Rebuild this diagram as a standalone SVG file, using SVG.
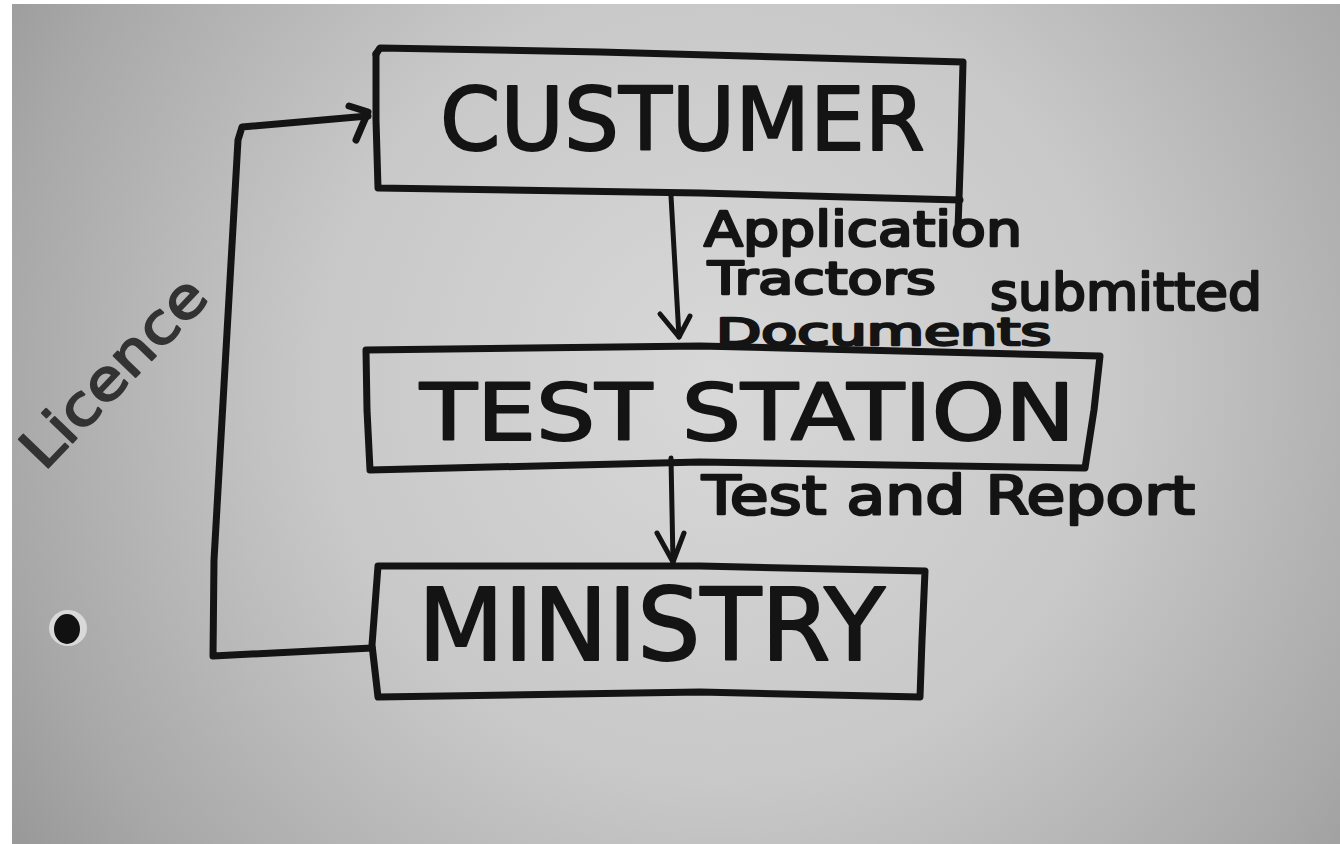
<svg xmlns="http://www.w3.org/2000/svg" width="1340" height="844" viewBox="0 0 1340 844">
  <defs>
    <radialGradient id="bg" cx="720" cy="380" r="900" gradientUnits="userSpaceOnUse">
      <stop offset="0" stop-color="#d8d8d8"/>
      <stop offset="0.45" stop-color="#c8c8c8"/>
      <stop offset="0.8" stop-color="#a8a8a8"/>
      <stop offset="1" stop-color="#929292"/>
    </radialGradient>
    <style>
      .ink{fill:none;stroke:#141414;stroke-width:7;stroke-linejoin:round;stroke-linecap:round}
      .thin{fill:none;stroke:#141414;stroke-width:5;stroke-linejoin:round;stroke-linecap:round}
      .big{font-family:"DejaVu Sans","Liberation Sans",sans-serif;fill:#141414;stroke:#141414;stroke-width:2;stroke-linejoin:round}
      .lab{font-family:"DejaVu Sans","Liberation Sans",sans-serif;fill:#141414;stroke:#141414;stroke-width:2.5;stroke-linejoin:round}
    </style>
  </defs>
  <rect x="0" y="0" width="1340" height="844" fill="#ffffff"/>
  <rect x="12" y="4" width="1328" height="840" fill="url(#bg)"/>

  <!-- hole in board -->
  <ellipse cx="68" cy="628" rx="19" ry="18" fill="#d9d9d9"/>
  <ellipse cx="67" cy="629" rx="13" ry="15" fill="#111111"/>

  <g id="customer">
    <path class="ink" d="M376,54 L380,48 L600,52 L963,62 L961,140 L958,228"/>
    <path class="ink" d="M960,200 L700,193 L378,188 L376,120 L376,54"/>
    <text class="big" x="440" y="150" font-size="88" textLength="485" lengthAdjust="spacingAndGlyphs">CUSTUMER</text>
  </g>

  <g id="test-station">
    <path class="ink" d="M366,350 L700,346 L1100,356 L1094,410 L1085,468 L700,462 L370,470 L367,410 Z"/>
    <text class="big" x="420" y="440" font-size="78" textLength="655" lengthAdjust="spacingAndGlyphs">TEST STATION</text>
  </g>

  <g id="ministry">
    <path class="ink" d="M378,566 L700,566 L925,571 L922,640 L920,697 L700,692 L378,697 L372,645 Z"/>
    <text class="big" x="418" y="660" font-size="100" textLength="467" lengthAdjust="spacingAndGlyphs">MINISTRY</text>
  </g>

  <g id="connectors">
    <path class="thin" d="M671,196 L679,337"/>
    <path class="thin" d="M660,314 L679,337 L690,316"/>
    <path class="thin" d="M671,458 L673,562"/>
    <path class="thin" d="M657,533 L673,562 L684,533"/>
    <path class="ink" d="M372,648 L213,656 L214,560 L238,140 L242,127 L368,116"/>
    <path class="ink" d="M349,106 L368,112 L356,140"/>
    <text class="lab" x="704" y="246" font-size="48" textLength="318" lengthAdjust="spacingAndGlyphs">Application</text>
    <text class="lab" x="708" y="294" font-size="44" textLength="228" lengthAdjust="spacingAndGlyphs">Tractors</text>
    <text class="lab" x="990" y="310" font-size="52" textLength="272" lengthAdjust="spacingAndGlyphs">submitted</text>
    <text class="lab" x="716" y="345" font-size="38" textLength="335" lengthAdjust="spacingAndGlyphs">Documents</text>
    <text class="lab" x="702" y="514" font-size="54" textLength="493" lengthAdjust="spacingAndGlyphs">Test and Report</text>
    <text class="lab" transform="translate(44,472) rotate(-46)" x="0" y="0" font-size="56" style="fill:#333333;stroke:#333333;stroke-width:2" textLength="240" lengthAdjust="spacingAndGlyphs">Licence</text>
  </g>
</svg>
